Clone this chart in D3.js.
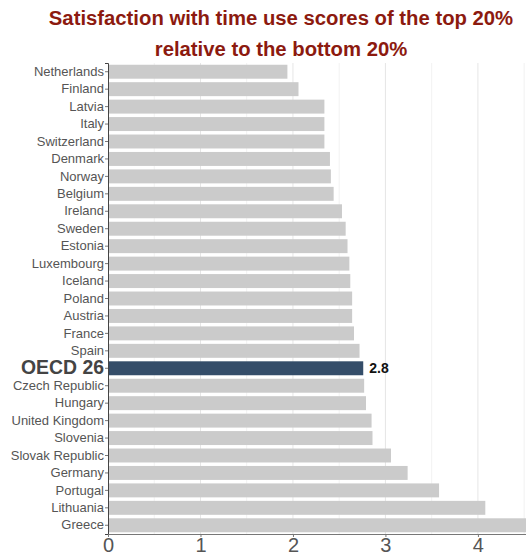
<!DOCTYPE html>
<html><head><meta charset="utf-8">
<script src="https://cdn.jsdelivr.net/npm/d3@7"></script>
<style>body{margin:0;background:#fff;}svg{display:block;}</style>
</head><body>
<script>
const countries = ["Netherlands","Finland","Latvia","Italy","Switzerland","Denmark","Norway","Belgium","Ireland","Sweden","Estonia","Luxembourg","Iceland","Poland","Austria","France","Spain","OECD 26","Czech Republic","Hungary","United Kingdom","Slovenia","Slovak Republic","Germany","Portugal","Lithuania","Greece"];
const values = [1.94,2.06,2.34,2.34,2.34,2.40,2.41,2.44,2.53,2.57,2.59,2.61,2.62,2.64,2.64,2.66,2.72,2.76,2.77,2.79,2.85,2.86,3.06,3.24,3.58,4.08,4.65];
const highlight = "OECD 26";
const highlightLabel = "2.8";
const xTicks = [0,1,2,3,4];
const xGrid = [0.5,1,1.5,2,2.5,3,3.5,4,4.5];
const titleLines = ["Satisfaction with time use scores of the top 20%","relative to the bottom 20%"];

const W = 526, H = 556;
const m = {left:108, right:0, top:63, bottom:22};
const svg = d3.select("body").append("svg").attr("width",W).attr("height",H);

const x = d3.scaleLinear().domain([0,4.52]).range([m.left, W - m.right]);
const y = d3.scaleBand().domain(countries).range([m.top, H - m.bottom]).paddingInner(0.2).paddingOuter(0.1);

svg.append("defs").append("clipPath").attr("id","plotclip")
  .append("rect").attr("x",m.left).attr("y",0).attr("width",W-m.left-m.right).attr("height",H);

// title
svg.append("g").selectAll("text").data(titleLines).join("text")
  .attr("x",281).attr("y",(d,i)=>25+i*31)
  .attr("text-anchor","middle")
  .attr("font-family","Liberation Sans, Arial, sans-serif")
  .attr("font-weight","bold").attr("font-size",20.3)
  .attr("fill","#8c1a0f").text(d=>d);

// grid
svg.append("g").selectAll("line").data(xGrid).join("line")
  .attr("x1",d=>x(d)).attr("x2",d=>x(d))
  .attr("y1",m.top).attr("y2",H-m.bottom)
  .attr("stroke",d=>Number.isInteger(d)?"#e6e6e6":"#f2f2f2").attr("stroke-width",1);

// bars
svg.append("g").attr("clip-path","url(#plotclip)").selectAll("rect").data(countries).join("rect")
  .attr("x",x(0)).attr("y",d=>y(d))
  .attr("width",(d,i)=>x(values[i])-x(0))
  .attr("height",y.bandwidth())
  .attr("fill",d=>d===highlight?"#344d69":"#cbcbcb");

// value label
const hi = countries.indexOf(highlight);
svg.append("text").attr("x",x(values[hi])+6).attr("y",y(highlight)+y.bandwidth()/2)
  .attr("dy","0.35em").attr("font-family","Liberation Sans, Arial, sans-serif")
  .attr("font-weight","bold").attr("font-size",14).attr("fill","#111").text(highlightLabel);

// y axis
const yAxis = svg.append("g").attr("transform",`translate(${m.left},0)`)
  .call(d3.axisLeft(y).tickSize(3).tickPadding(1));
yAxis.select(".domain").attr("stroke","#444");
yAxis.selectAll(".tick line").attr("stroke","#777");
yAxis.selectAll(".tick text")
  .attr("font-family","Liberation Sans, Arial, sans-serif")
  .attr("font-size",d=>d===highlight?19.4:13)
  .attr("font-weight",d=>d===highlight?"bold":"normal")
  .attr("fill",d=>d===highlight?"#444":"#555");

// x axis
const xAxis = svg.append("g").attr("transform",`translate(0,${H-m.bottom})`)
  .call(d3.axisBottom(x).tickValues(xTicks).tickSize(3).tickPadding(1).tickFormat(d3.format("d")));
xAxis.select(".domain").attr("stroke","#777");
xAxis.selectAll(".tick line").attr("stroke","#777");
xAxis.selectAll(".tick text")
  .attr("font-family","Liberation Sans, Arial, sans-serif")
  .attr("font-size",20).attr("fill","#555");
</script>
</body></html>
